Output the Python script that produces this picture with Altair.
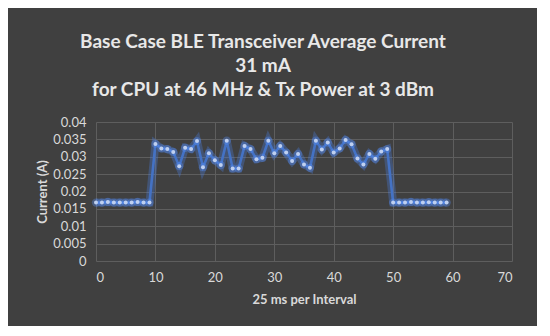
import altair as alt
import pandas as pd

intervals = list(range(60))
current = [
    0.0168, 0.0168, 0.0170, 0.0168, 0.0168, 0.0168, 0.0168, 0.0170, 0.0168, 0.0168,
    0.0337, 0.0324, 0.0322, 0.0314, 0.0273, 0.0326, 0.0322, 0.0345, 0.0270, 0.0310,
    0.0290, 0.0276, 0.0346, 0.0266, 0.0266, 0.0331, 0.0322, 0.0293, 0.0297, 0.0346,
    0.0310, 0.0331, 0.0312, 0.0288, 0.0308, 0.0278, 0.0268, 0.0346, 0.0321, 0.0341,
    0.0312, 0.0324, 0.0348, 0.0336, 0.0295, 0.0278, 0.0308, 0.0294, 0.0315, 0.0322,
    0.0168, 0.0168, 0.0168, 0.0170, 0.0168, 0.0168, 0.0169, 0.0168, 0.0168, 0.0168,
]
x_ticks = [0, 10, 20, 30, 40, 50, 60, 70]
y_ticks = [0, 0.005, 0.01, 0.015, 0.02, 0.025, 0.03, 0.035, 0.04]
title_lines = [
    "Base Case BLE Transceiver Average Current",
    "31 mA",
    "for CPU at 46 MHz & Tx Power at 3 dBm",
]

df = pd.DataFrame({"interval": intervals, "current": current})

FONT = "Lato"
LABEL = "#D9D9D9"
GRID = "#5E5E5E"
BLUE = "#4472C4"

x_enc = alt.X(
    "interval:Q",
    scale=alt.Scale(domain=[0, 70], nice=False),
    axis=alt.Axis(
        values=x_ticks, title="25 ms per Interval", grid=True,
        titleX=208, titleY=38, titleAlign="center", titleBaseline="middle",
    ),
)
y_enc = alt.Y(
    "current:Q",
    scale=alt.Scale(domain=[0, 0.04], nice=False),
    axis=alt.Axis(
        values=y_ticks, format="~g", title="Current (A)", grid=True,
        titleX=-54, titleY=69.5, titleAngle=270, titleAlign="center",
        titleBaseline="middle",
    ),
)

base = alt.Chart(df).encode(x=x_enc, y=y_enc)

glow_line = base.mark_line(color="#4D86F0", strokeWidth=8, opacity=0.3)
line = base.mark_line(color=BLUE, strokeWidth=2.6)
glow_pts = base.mark_circle(color="#5A90F5", size=70, opacity=0.35)
pts = base.mark_circle(color="#BFD0F0", size=16, opacity=1)

chart = (
    alt.layer(glow_line, line, glow_pts, pts)
    .properties(
        width=416,
        height=139,
        padding={"left": 88, "top": 114, "right": 25, "bottom": 65},
        autosize=alt.AutoSizeParams(type="none"),
        background="#404040",
        title=alt.TitleParams(
            text=title_lines,
            font=FONT,
            fontSize=19,
            fontWeight="bold",
            color="#E8E8E8",
            anchor="middle",
            frame="group",
            dx=-41,
            offset=16,
            lineHeight=24,
        ),
    )
    .configure_view(stroke=None)
    .configure_axis(
        labelFont=FONT,
        labelFontSize=13,
        labelColor=LABEL,
        titleFont=FONT,
        titleFontSize=13,
        titleFontWeight="bold",
        titleColor=LABEL,
        gridColor=GRID,
        gridWidth=1,
        domain=False,
        ticks=False,
        labelPadding=10,
    )
)

chart.save("out.html", embed_options={"renderer": "svg", "actions": False})
